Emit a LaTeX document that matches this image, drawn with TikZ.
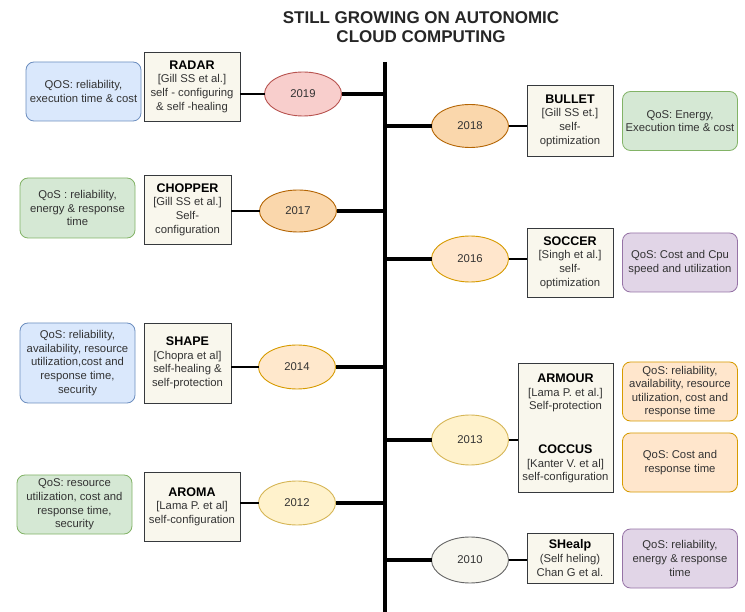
\documentclass[tikz,border=0pt]{standalone}
\usepackage{fontspec}
\setmainfont{Liberation Sans}
\usetikzlibrary{shapes.geometric}
\definecolor{boxfill}{HTML}{F9F7ED}
\definecolor{boxdraw}{HTML}{36393D}
\definecolor{bluefill}{HTML}{DAE8FC}
\definecolor{bluedraw}{HTML}{6C8EBF}
\definecolor{greenfill}{HTML}{D5E8D4}
\definecolor{greendraw}{HTML}{82B366}
\definecolor{purplefill}{HTML}{E1D5E7}
\definecolor{purpledraw}{HTML}{9673A6}
\definecolor{orangefill}{HTML}{FFE6CC}
\definecolor{orangedraw}{HTML}{D79B00}
\definecolor{pinkfill}{HTML}{F8CECC}
\definecolor{pinkdraw}{HTML}{B85450}
\definecolor{darkorangefill}{HTML}{FAD7AC}
\definecolor{darkorangedraw}{HTML}{B46504}
\definecolor{yellowfill}{HTML}{FFF2CC}
\definecolor{yellowdraw}{HTML}{D6B656}
\definecolor{greyfill}{HTML}{F7F6EE}
\definecolor{greydraw}{HTML}{666666}
\definecolor{txt}{HTML}{333333}
\begin{document}
\begin{tikzpicture}[x=1pt,y=-1pt,
  every node/.style={inner sep=1pt, outer sep=0pt},
  bodyfont/.style={font=\fontsize{11.3}{13.6}\selectfont, text=txt},
  qos/.style={bodyfont, draw, rounded corners=8pt, align=center, line width=0.8pt,
    minimum width=115pt, minimum height=59pt},
  work/.style={bodyfont, draw=boxdraw, fill=boxfill, align=center, line width=0.9pt},
  yr/.style={ellipse, draw, line width=0.9pt, minimum width=77pt, minimum height=44pt,
    font=\fontsize{11.3}{13}\selectfont, text=txt},
  thickline/.style={line width=4.5pt},
  thinline/.style={line width=1.8pt},
  ttl/.style={font=\bfseries\fontsize{17}{19}\selectfont, align=center, text=black!85}
]
\useasboundingbox (0,0) rectangle (745,612);
\fill[white] (0,0) rectangle (745,612);

\node[ttl] (title) at (421,27.5) {STILL GROWING ON AUTONOMIC\\CLOUD COMPUTING};

\coordinate (tltop) at (385,62);
\coordinate (tlbot) at (385,612);
\draw[thickline] (tltop) -- (tlbot);

% ---------- left side ----------
% 2019 RADAR
\node[qos, fill=bluefill, draw=bluedraw] (q2019) at (83.5,91.5) {QOS: reliability,\\execution time \& cost};
\node[work, minimum width=96pt, minimum height=69pt] (b2019) at (192,86.5)
  {\textcolor{black}{\bfseries\fontsize{12.5}{14}\selectfont RADAR}\\{[}Gill SS et al.{]}\\self - configuring\\\& self -healing};
\node[yr, fill=pinkfill, draw=pinkdraw] (e2019) at (303,94) {2019};

% 2017 CHOPPER
\node[qos, fill=greenfill, draw=greendraw, minimum height=60pt] (q2017) at (77.5,208) {QoS : reliability,\\energy \& response\\time};
\node[work, minimum width=87pt, minimum height=69pt] (b2017) at (187.5,209.5)
  {\textcolor{black}{\bfseries\fontsize{12.5}{14}\selectfont CHOPPER}\\{[}Gill SS et al.{]}\\Self-\\configuration};
\node[yr, fill=darkorangefill, draw=darkorangedraw, minimum height=42pt] (e2017) at (298,211) {2017};

% 2014 SHAPE
\node[qos, fill=bluefill, draw=bluedraw, minimum height=80pt] (q2014) at (77.5,363) {QoS: reliability,\\availability, resource\\utilization,cost and\\response time,\\security};
\node[work, minimum width=87pt, minimum height=80pt] (b2014) at (187.5,363)
  {\textcolor{black}{\bfseries\fontsize{12.5}{14}\selectfont SHAPE}\\{[}Chopra et al{]}\\self-healing \&\\self-protection};
\node[yr, fill=orangefill!80!yellowfill, draw=orangedraw] (e2014) at (297,367) {2014};

% 2012 AROMA
\node[qos, fill=greenfill, draw=greendraw] (q2012) at (74.5,504.5) {QoS: resource\\utilization, cost and\\response time,\\security};
\node[work, minimum width=96pt, minimum height=69pt] (b2012) at (192,506.5)
  {\textcolor{black}{\bfseries\fontsize{12.5}{14}\selectfont AROMA}\\{[}Lama P. et al{]}\\self-configuration};
\node[yr, fill=yellowfill, draw=yellowdraw] (e2012) at (297,503) {2012};

% ---------- right side ----------
% 2018 BULLET
\node[yr, fill=darkorangefill, draw=darkorangedraw, minimum height=43pt] (e2018) at (470,126) {2018};
\node[work, minimum width=86pt, minimum height=71pt] (b2018) at (570,120.5)
  {\textcolor{black}{\bfseries\fontsize{12.5}{14}\selectfont BULLET}\\{[}Gill SS et.{]}\\self-\\optimization};
\node[qos, fill=greenfill, draw=greendraw] (q2018) at (680,121) {QoS: Energy,\\Execution time \& cost};

% 2016 SOCCER
\node[yr, fill=orangefill, draw=orangedraw, minimum height=46pt] (e2016) at (470,259) {2016};
\node[work, minimum width=86pt, minimum height=69pt] (b2016) at (570,262.5)
  {\textcolor{black}{\bfseries\fontsize{12.5}{14}\selectfont SOCCER}\\{[}Singh et al.{]}\\self-\\optimization};
\node[qos, fill=purplefill, draw=purpledraw] (q2016) at (680,262.5) {QoS: Cost and Cpu\\speed and utilization};

% 2013 ARMOUR / COCCUS
\node[yr, fill=yellowfill, draw=yellowdraw, minimum height=50pt] (e2013) at (470,440) {2013};
\node[work, minimum width=95pt, minimum height=129pt] (b2013) at (565.5,427.5) {};
\node[bodyfont, align=center] (t2013a) at (565.5,393)
  {\textcolor{black}{\bfseries\fontsize{12.5}{14}\selectfont ARMOUR}\\{[}Lama P. et al.{]}\\Self-protection};
\node[bodyfont, align=center] (t2013b) at (565.5,464)
  {\textcolor{black}{\bfseries\fontsize{12.5}{14}\selectfont COCCUS}\\{[}Kanter V. et al{]}\\self-configuration};
\node[qos, fill=orangefill, draw=orangedraw] (q2013a) at (680,391.5) {QoS: reliability,\\availability, resource\\utilization, cost and\\response time};
\node[qos, fill=orangefill, draw=orangedraw] (q2013b) at (680,462.5) {QoS: Cost and\\response time};

% 2010 SHealp
\node[yr, fill=greyfill, draw=greydraw, minimum height=46pt] (e2010) at (470,560) {2010};
\node[work, minimum width=86pt, minimum height=50pt] (b2010) at (570,558)
  {\textcolor{black}{\bfseries\fontsize{12.5}{14}\selectfont SHealp}\\(Self heling)\\Chan G et al.};
\node[qos, fill=purplefill, draw=purpledraw] (q2010) at (680,558.5) {QoS: reliability,\\energy \& response\\time};

% ---------- connectors ----------
\foreach \e in {e2019,e2017,e2014,e2012}{
  \draw[thickline] (\e.east) -- (\e.east -| tltop);
}
\foreach \e in {e2018,e2016,e2013,e2010}{
  \draw[thickline] (\e.west) -- (\e.west -| tltop);
}
\draw[thinline] (e2019.west) -- (e2019.west -| b2019.east);
\draw[thinline] (e2017.west) -- (e2017.west -| b2017.east);
\draw[thinline] (e2014.west) -- (e2014.west -| b2014.east);
\draw[thinline] (e2012.west) -- (e2012.west -| b2012.east);
\draw[thinline] (e2018.east) -- (e2018.east -| b2018.west);
\draw[thinline] (e2016.east) -- (e2016.east -| b2016.west);
\draw[thinline] (e2013.east) -- (e2013.east -| b2013.west);
\draw[thinline] (e2010.east) -- (e2010.east -| b2010.west);
\end{tikzpicture}
\end{document}
